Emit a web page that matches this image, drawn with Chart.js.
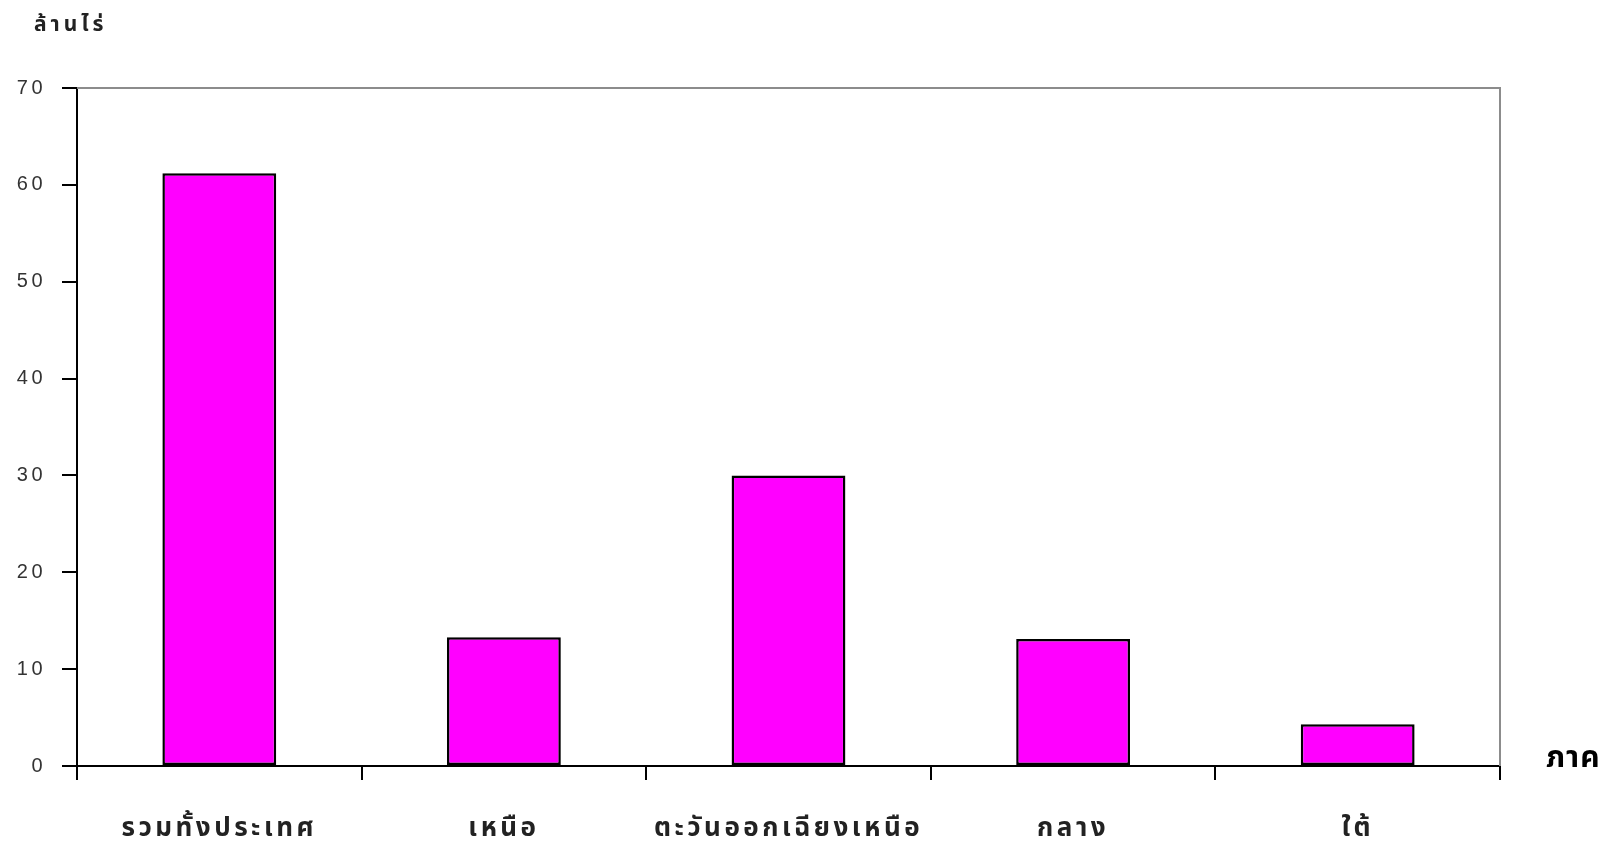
<!DOCTYPE html>
<html lang="th">
<head>
    <meta charset="UTF-8">
    <title>พื้นที่ ล้านไร่ แยกตามภาค</title>
    <script src="https://cdn.jsdelivr.net/npm/chart.js"></script>
    <style>
        body {
            margin: 0;
            background-color: #ffffff;
        }
        #wrap {
            width: 1613px;
            height: 846px;
        }
    </style>
</head>
<body>
    <div id="wrap"><canvas id="areaChart" width="1613" height="846"></canvas></div>

    <script>
        // data (million rai per region)
        const regions = ['รวมทั้งประเทศ', 'เหนือ', 'ตะวันออกเฉียงเหนือ', 'กลาง', 'ใต้'];
        const areaValues = [61.2, 13.3, 30.0, 13.1, 4.3];
        const yTicks = [0, 10, 20, 30, 40, 50, 60, 70];
        const yUnit = 'ล้านไร่';
        const xUnit = 'ภาค';

        const thaiFont = 'Tahoma, "Noto Sans Thai", "Noto Sans", "DejaVu Sans", sans-serif';

        // the old spreadsheet text is spaced out a bit
        const spacing = {
            id: 'spacing',
            beforeDraw(chart) {
                chart.ctx.letterSpacing = '3.5px';
            }
        };

        // unit labels and the grey top/right frame
        const extras = {
            id: 'extras',
            afterDraw(chart) {
                const { ctx, chartArea } = chart;
                ctx.save();
                ctx.strokeStyle = '#8c8c8c';
                ctx.lineWidth = 2;
                ctx.beginPath();
                ctx.moveTo(chartArea.left, chartArea.top);
                ctx.lineTo(chartArea.right, chartArea.top);
                ctx.lineTo(chartArea.right, chartArea.bottom);
                ctx.stroke();

                ctx.fillStyle = '#222';
                ctx.textBaseline = 'middle';
                ctx.textAlign = 'left';
                ctx.letterSpacing = '4px';
                ctx.font = 'bold 21px ' + thaiFont;
                ctx.fillText(yUnit, 34, 27);

                ctx.fillStyle = '#000';
                ctx.letterSpacing = '1px';
                ctx.font = 'bold 30px ' + thaiFont;
                ctx.fillText(xUnit, chartArea.right + 46, chartArea.bottom - 5);
                ctx.restore();
            }
        };

        const ctx = document.getElementById('areaChart').getContext('2d');
        new Chart(ctx, {
            type: 'bar',
            data: {
                labels: regions,
                datasets: [{
                    data: areaValues,
                    backgroundColor: '#ff00ff',
                    borderColor: '#000000',
                    borderWidth: 2.5,
                    borderSkipped: false,
                    categoryPercentage: 1.0,
                    barPercentage: 0.4
                }]
            },
            options: {
                responsive: false,
                animation: false,
                layout: {
                    padding: { top: 88, right: 113, left: 0, bottom: 0 }
                },
                plugins: {
                    legend: { display: false },
                    tooltip: { enabled: false }
                },
                scales: {
                    x: {
                        afterFit: (scale) => { scale.height = 80; },
                        grid: {
                            display: true,
                            offset: true,
                            drawOnChartArea: false,
                            drawTicks: true,
                            tickLength: 14,
                            color: '#000',
                            lineWidth: 2
                        },
                        border: { display: true, color: '#000', width: 2 },
                        ticks: {
                            color: '#222',
                            padding: 35,
                            maxRotation: 0,
                            font: { family: thaiFont, size: 26, weight: 'bold' }
                        }
                    },
                    y: {
                        min: 0,
                        max: 70,
                        afterFit: (scale) => { scale.width = 77; },
                        afterBuildTicks: (scale) => {
                            scale.ticks = yTicks.map(v => ({ value: v }));
                        },
                        grid: {
                            display: true,
                            drawOnChartArea: false,
                            drawTicks: true,
                            tickLength: 15,
                            color: '#000',
                            lineWidth: 2
                        },
                        border: { display: true, color: '#000', width: 2 },
                        ticks: {
                            color: '#333',
                            padding: 16,
                            font: { family: 'Arial, "Liberation Sans", sans-serif', size: 20 }
                        }
                    }
                }
            },
            plugins: [spacing, extras]
        });
    </script>
</body>
</html>
